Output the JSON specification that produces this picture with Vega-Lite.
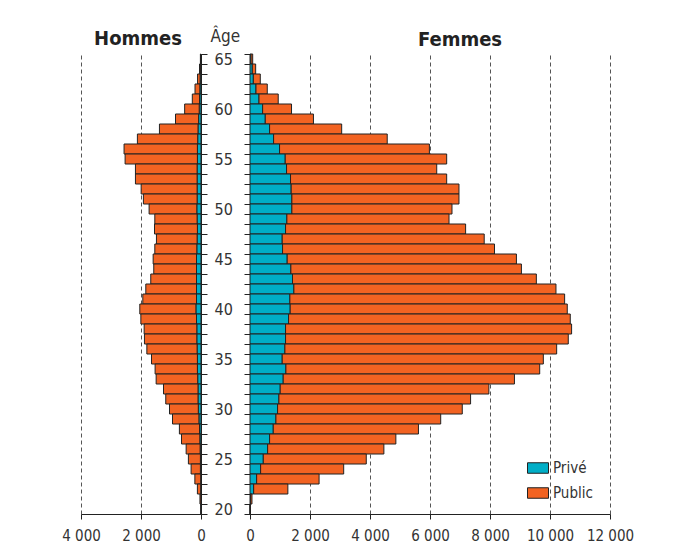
{
  "$schema": "https://vega.github.io/schema/vega-lite/v6.json",
  "background": "white",
  "padding": {"left": 61, "top": 27, "right": 30, "bottom": 30},
  "bounds": "flush",
  "spacing": 49,
  "config": {
    "locale": {"number": {"decimal": ",", "thousands": " ", "grouping": [3], "currency": ["", " €"]}},
    "font": "DejaVu Sans Condensed, sans-serif",
    "view": {"stroke": null},
    "axis": {
      "domainColor": "#222",
      "tickColor": "#222",
      "labelColor": "#333",
      "labelFont": "DejaVu Sans Condensed, sans-serif",
      "titleFont": "DejaVu Sans Condensed, sans-serif",
      "titleColor": "#333",
      "gridColor": "#555",
      "gridDash": [4, 3],
      "gridWidth": 1
    },
    "title": {
      "font": "DejaVu Sans Condensed, sans-serif",
      "fontSize": 20,
      "fontWeight": "bold",
      "color": "#222",
      "anchor": "middle"
    }
  },
  "datasets": {
    "pop": [
      {"sexe": "Hommes", "age": 65, "secteur": "Privé", "effectif": 10},
      {"sexe": "Hommes", "age": 65, "secteur": "Public", "effectif": 10},
      {"sexe": "Hommes", "age": 64, "secteur": "Privé", "effectif": 20},
      {"sexe": "Hommes", "age": 64, "secteur": "Public", "effectif": 30},
      {"sexe": "Hommes", "age": 63, "secteur": "Privé", "effectif": 30},
      {"sexe": "Hommes", "age": 63, "secteur": "Public", "effectif": 85},
      {"sexe": "Hommes", "age": 62, "secteur": "Privé", "effectif": 40},
      {"sexe": "Hommes", "age": 62, "secteur": "Public", "effectif": 160},
      {"sexe": "Hommes", "age": 61, "secteur": "Privé", "effectif": 50},
      {"sexe": "Hommes", "age": 61, "secteur": "Public", "effectif": 240},
      {"sexe": "Hommes", "age": 60, "secteur": "Privé", "effectif": 60},
      {"sexe": "Hommes", "age": 60, "secteur": "Public", "effectif": 485},
      {"sexe": "Hommes", "age": 59, "secteur": "Privé", "effectif": 80},
      {"sexe": "Hommes", "age": 59, "secteur": "Public", "effectif": 770},
      {"sexe": "Hommes", "age": 58, "secteur": "Privé", "effectif": 100},
      {"sexe": "Hommes", "age": 58, "secteur": "Public", "effectif": 1285},
      {"sexe": "Hommes", "age": 57, "secteur": "Privé", "effectif": 110},
      {"sexe": "Hommes", "age": 57, "secteur": "Public", "effectif": 2010},
      {"sexe": "Hommes", "age": 56, "secteur": "Privé", "effectif": 120},
      {"sexe": "Hommes", "age": 56, "secteur": "Public", "effectif": 2445},
      {"sexe": "Hommes", "age": 55, "secteur": "Privé", "effectif": 120},
      {"sexe": "Hommes", "age": 55, "secteur": "Public", "effectif": 2410},
      {"sexe": "Hommes", "age": 54, "secteur": "Privé", "effectif": 130},
      {"sexe": "Hommes", "age": 54, "secteur": "Public", "effectif": 2055},
      {"sexe": "Hommes", "age": 53, "secteur": "Privé", "effectif": 130},
      {"sexe": "Hommes", "age": 53, "secteur": "Public", "effectif": 2055},
      {"sexe": "Hommes", "age": 52, "secteur": "Privé", "effectif": 130},
      {"sexe": "Hommes", "age": 52, "secteur": "Public", "effectif": 1865},
      {"sexe": "Hommes", "age": 51, "secteur": "Privé", "effectif": 130},
      {"sexe": "Hommes", "age": 51, "secteur": "Public", "effectif": 1790},
      {"sexe": "Hommes", "age": 50, "secteur": "Privé", "effectif": 140},
      {"sexe": "Hommes", "age": 50, "secteur": "Public", "effectif": 1590},
      {"sexe": "Hommes", "age": 49, "secteur": "Privé", "effectif": 130},
      {"sexe": "Hommes", "age": 49, "secteur": "Public", "effectif": 1410},
      {"sexe": "Hommes", "age": 48, "secteur": "Privé", "effectif": 120},
      {"sexe": "Hommes", "age": 48, "secteur": "Public", "effectif": 1430},
      {"sexe": "Hommes", "age": 47, "secteur": "Privé", "effectif": 130},
      {"sexe": "Hommes", "age": 47, "secteur": "Public", "effectif": 1355},
      {"sexe": "Hommes", "age": 46, "secteur": "Privé", "effectif": 140},
      {"sexe": "Hommes", "age": 46, "secteur": "Public", "effectif": 1400},
      {"sexe": "Hommes", "age": 45, "secteur": "Privé", "effectif": 150},
      {"sexe": "Hommes", "age": 45, "secteur": "Public", "effectif": 1445},
      {"sexe": "Hommes", "age": 44, "secteur": "Privé", "effectif": 150},
      {"sexe": "Hommes", "age": 44, "secteur": "Public", "effectif": 1425},
      {"sexe": "Hommes", "age": 43, "secteur": "Privé", "effectif": 150},
      {"sexe": "Hommes", "age": 43, "secteur": "Public", "effectif": 1525},
      {"sexe": "Hommes", "age": 42, "secteur": "Privé", "effectif": 150},
      {"sexe": "Hommes", "age": 42, "secteur": "Public", "effectif": 1690},
      {"sexe": "Hommes", "age": 41, "secteur": "Privé", "effectif": 150},
      {"sexe": "Hommes", "age": 41, "secteur": "Public", "effectif": 1790},
      {"sexe": "Hommes", "age": 40, "secteur": "Privé", "effectif": 170},
      {"sexe": "Hommes", "age": 40, "secteur": "Public", "effectif": 1870},
      {"sexe": "Hommes", "age": 39, "secteur": "Privé", "effectif": 150},
      {"sexe": "Hommes", "age": 39, "secteur": "Public", "effectif": 1855},
      {"sexe": "Hommes", "age": 38, "secteur": "Privé", "effectif": 140},
      {"sexe": "Hommes", "age": 38, "secteur": "Public", "effectif": 1755},
      {"sexe": "Hommes", "age": 37, "secteur": "Privé", "effectif": 140},
      {"sexe": "Hommes", "age": 37, "secteur": "Public", "effectif": 1745},
      {"sexe": "Hommes", "age": 36, "secteur": "Privé", "effectif": 130},
      {"sexe": "Hommes", "age": 36, "secteur": "Public", "effectif": 1675},
      {"sexe": "Hommes", "age": 35, "secteur": "Privé", "effectif": 120},
      {"sexe": "Hommes", "age": 35, "secteur": "Public", "effectif": 1530},
      {"sexe": "Hommes", "age": 34, "secteur": "Privé", "effectif": 120},
      {"sexe": "Hommes", "age": 34, "secteur": "Public", "effectif": 1410},
      {"sexe": "Hommes", "age": 33, "secteur": "Privé", "effectif": 110},
      {"sexe": "Hommes", "age": 33, "secteur": "Public", "effectif": 1385},
      {"sexe": "Hommes", "age": 32, "secteur": "Privé", "effectif": 100},
      {"sexe": "Hommes", "age": 32, "secteur": "Public", "effectif": 1150},
      {"sexe": "Hommes", "age": 31, "secteur": "Privé", "effectif": 100},
      {"sexe": "Hommes", "age": 31, "secteur": "Public", "effectif": 1075},
      {"sexe": "Hommes", "age": 30, "secteur": "Privé", "effectif": 90},
      {"sexe": "Hommes", "age": 30, "secteur": "Public", "effectif": 960},
      {"sexe": "Hommes", "age": 29, "secteur": "Privé", "effectif": 70},
      {"sexe": "Hommes", "age": 29, "secteur": "Public", "effectif": 880},
      {"sexe": "Hommes", "age": 28, "secteur": "Privé", "effectif": 50},
      {"sexe": "Hommes", "age": 28, "secteur": "Public", "effectif": 670},
      {"sexe": "Hommes", "age": 27, "secteur": "Privé", "effectif": 40},
      {"sexe": "Hommes", "age": 27, "secteur": "Public", "effectif": 610},
      {"sexe": "Hommes", "age": 26, "secteur": "Privé", "effectif": 30},
      {"sexe": "Hommes", "age": 26, "secteur": "Public", "effectif": 465},
      {"sexe": "Hommes", "age": 25, "secteur": "Privé", "effectif": 20},
      {"sexe": "Hommes", "age": 25, "secteur": "Public", "effectif": 400},
      {"sexe": "Hommes", "age": 24, "secteur": "Privé", "effectif": 20},
      {"sexe": "Hommes", "age": 24, "secteur": "Public", "effectif": 310},
      {"sexe": "Hommes", "age": 23, "secteur": "Privé", "effectif": 10},
      {"sexe": "Hommes", "age": 23, "secteur": "Public", "effectif": 195},
      {"sexe": "Hommes", "age": 22, "secteur": "Privé", "effectif": 10},
      {"sexe": "Hommes", "age": 22, "secteur": "Public", "effectif": 110},
      {"sexe": "Hommes", "age": 21, "secteur": "Privé", "effectif": 5},
      {"sexe": "Hommes", "age": 21, "secteur": "Public", "effectif": 30},
      {"sexe": "Hommes", "age": 20, "secteur": "Privé", "effectif": 0},
      {"sexe": "Hommes", "age": 20, "secteur": "Public", "effectif": 0},
      {"sexe": "Femmes", "age": 65, "secteur": "Privé", "effectif": 33},
      {"sexe": "Femmes", "age": 65, "secteur": "Public", "effectif": 57},
      {"sexe": "Femmes", "age": 64, "secteur": "Privé", "effectif": 77},
      {"sexe": "Femmes", "age": 64, "secteur": "Public", "effectif": 112},
      {"sexe": "Femmes", "age": 63, "secteur": "Privé", "effectif": 111},
      {"sexe": "Femmes", "age": 63, "secteur": "Public", "effectif": 232},
      {"sexe": "Femmes", "age": 62, "secteur": "Privé", "effectif": 199},
      {"sexe": "Femmes", "age": 62, "secteur": "Public", "effectif": 377},
      {"sexe": "Femmes", "age": 61, "secteur": "Privé", "effectif": 299},
      {"sexe": "Femmes", "age": 61, "secteur": "Public", "effectif": 642},
      {"sexe": "Femmes", "age": 60, "secteur": "Privé", "effectif": 421},
      {"sexe": "Femmes", "age": 60, "secteur": "Public", "effectif": 963},
      {"sexe": "Femmes", "age": 59, "secteur": "Privé", "effectif": 509},
      {"sexe": "Femmes", "age": 59, "secteur": "Public", "effectif": 1606},
      {"sexe": "Femmes", "age": 58, "secteur": "Privé", "effectif": 653},
      {"sexe": "Femmes", "age": 58, "secteur": "Public", "effectif": 2403},
      {"sexe": "Femmes", "age": 57, "secteur": "Privé", "effectif": 786},
      {"sexe": "Femmes", "age": 57, "secteur": "Public", "effectif": 3788},
      {"sexe": "Femmes", "age": 56, "secteur": "Privé", "effectif": 985},
      {"sexe": "Femmes", "age": 56, "secteur": "Public", "effectif": 4995},
      {"sexe": "Femmes", "age": 55, "secteur": "Privé", "effectif": 1174},
      {"sexe": "Femmes", "age": 55, "secteur": "Public", "effectif": 5382},
      {"sexe": "Femmes", "age": 54, "secteur": "Privé", "effectif": 1218},
      {"sexe": "Femmes", "age": 54, "secteur": "Public", "effectif": 5006},
      {"sexe": "Femmes", "age": 53, "secteur": "Privé", "effectif": 1351},
      {"sexe": "Femmes", "age": 53, "secteur": "Public", "effectif": 5205},
      {"sexe": "Femmes", "age": 52, "secteur": "Privé", "effectif": 1373},
      {"sexe": "Femmes", "age": 52, "secteur": "Public", "effectif": 5593},
      {"sexe": "Femmes", "age": 51, "secteur": "Privé", "effectif": 1395},
      {"sexe": "Femmes", "age": 51, "secteur": "Public", "effectif": 5571},
      {"sexe": "Femmes", "age": 50, "secteur": "Privé", "effectif": 1395},
      {"sexe": "Femmes", "age": 50, "secteur": "Public", "effectif": 5338},
      {"sexe": "Femmes", "age": 49, "secteur": "Privé", "effectif": 1229},
      {"sexe": "Femmes", "age": 49, "secteur": "Public", "effectif": 5405},
      {"sexe": "Femmes", "age": 48, "secteur": "Privé", "effectif": 1185},
      {"sexe": "Femmes", "age": 48, "secteur": "Public", "effectif": 6002},
      {"sexe": "Femmes", "age": 47, "secteur": "Privé", "effectif": 1074},
      {"sexe": "Femmes", "age": 47, "secteur": "Public", "effectif": 6733},
      {"sexe": "Femmes", "age": 46, "secteur": "Privé", "effectif": 1085},
      {"sexe": "Femmes", "age": 46, "secteur": "Public", "effectif": 7065},
      {"sexe": "Femmes", "age": 45, "secteur": "Privé", "effectif": 1240},
      {"sexe": "Femmes", "age": 45, "secteur": "Public", "effectif": 7641},
      {"sexe": "Femmes", "age": 44, "secteur": "Privé", "effectif": 1362},
      {"sexe": "Femmes", "age": 44, "secteur": "Public", "effectif": 7685},
      {"sexe": "Femmes", "age": 43, "secteur": "Privé", "effectif": 1417},
      {"sexe": "Femmes", "age": 43, "secteur": "Public", "effectif": 8128},
      {"sexe": "Femmes", "age": 42, "secteur": "Privé", "effectif": 1462},
      {"sexe": "Femmes", "age": 42, "secteur": "Public", "effectif": 8737},
      {"sexe": "Femmes", "age": 41, "secteur": "Privé", "effectif": 1329},
      {"sexe": "Femmes", "age": 41, "secteur": "Public", "effectif": 9159},
      {"sexe": "Femmes", "age": 40, "secteur": "Privé", "effectif": 1340},
      {"sexe": "Femmes", "age": 40, "secteur": "Public", "effectif": 9236},
      {"sexe": "Femmes", "age": 39, "secteur": "Privé", "effectif": 1285},
      {"sexe": "Femmes", "age": 39, "secteur": "Public", "effectif": 9391},
      {"sexe": "Femmes", "age": 38, "secteur": "Privé", "effectif": 1185},
      {"sexe": "Femmes", "age": 38, "secteur": "Public", "effectif": 9535},
      {"sexe": "Femmes", "age": 37, "secteur": "Privé", "effectif": 1185},
      {"sexe": "Femmes", "age": 37, "secteur": "Public", "effectif": 9424},
      {"sexe": "Femmes", "age": 36, "secteur": "Privé", "effectif": 1163},
      {"sexe": "Femmes", "age": 36, "secteur": "Public", "effectif": 9059},
      {"sexe": "Femmes", "age": 35, "secteur": "Privé", "effectif": 1074},
      {"sexe": "Femmes", "age": 35, "secteur": "Public", "effectif": 8704},
      {"sexe": "Femmes", "age": 34, "secteur": "Privé", "effectif": 1196},
      {"sexe": "Femmes", "age": 34, "secteur": "Public", "effectif": 8461},
      {"sexe": "Femmes", "age": 33, "secteur": "Privé", "effectif": 1107},
      {"sexe": "Femmes", "age": 33, "secteur": "Public", "effectif": 7708},
      {"sexe": "Femmes", "age": 32, "secteur": "Privé", "effectif": 1007},
      {"sexe": "Femmes", "age": 32, "secteur": "Public", "effectif": 6956},
      {"sexe": "Femmes", "age": 31, "secteur": "Privé", "effectif": 963},
      {"sexe": "Femmes", "age": 31, "secteur": "Public", "effectif": 6390},
      {"sexe": "Femmes", "age": 30, "secteur": "Privé", "effectif": 919},
      {"sexe": "Femmes", "age": 30, "secteur": "Public", "effectif": 6157},
      {"sexe": "Femmes", "age": 29, "secteur": "Privé", "effectif": 864},
      {"sexe": "Femmes", "age": 29, "secteur": "Public", "effectif": 5493},
      {"sexe": "Femmes", "age": 28, "secteur": "Privé", "effectif": 775},
      {"sexe": "Femmes", "age": 28, "secteur": "Public", "effectif": 4840},
      {"sexe": "Femmes", "age": 27, "secteur": "Privé", "effectif": 653},
      {"sexe": "Femmes", "age": 27, "secteur": "Public", "effectif": 4209},
      {"sexe": "Femmes", "age": 26, "secteur": "Privé", "effectif": 587},
      {"sexe": "Femmes", "age": 26, "secteur": "Public", "effectif": 3876},
      {"sexe": "Femmes", "age": 25, "secteur": "Privé", "effectif": 443},
      {"sexe": "Femmes", "age": 25, "secteur": "Public", "effectif": 3433},
      {"sexe": "Femmes", "age": 24, "secteur": "Privé", "effectif": 354},
      {"sexe": "Femmes", "age": 24, "secteur": "Public", "effectif": 2769},
      {"sexe": "Femmes", "age": 23, "secteur": "Privé", "effectif": 221},
      {"sexe": "Femmes", "age": 23, "secteur": "Public", "effectif": 2082},
      {"sexe": "Femmes", "age": 22, "secteur": "Privé", "effectif": 122},
      {"sexe": "Femmes", "age": 22, "secteur": "Public", "effectif": 1140},
      {"sexe": "Femmes", "age": 21, "secteur": "Privé", "effectif": 20},
      {"sexe": "Femmes", "age": 21, "secteur": "Public", "effectif": 46},
      {"sexe": "Femmes", "age": 20, "secteur": "Privé", "effectif": 3},
      {"sexe": "Femmes", "age": 20, "secteur": "Public", "effectif": 7}
    ]
  },
  "data": {"name": "pop"},
  "hconcat": [
    {
      "width": 120,
      "height": 460,
      "title": {"text": "Hommes", "dx": -3, "offset": -22},
      "transform": [{"filter": "datum.sexe === 'Hommes'"}],
      "mark": {"type": "bar", "stroke": "#222", "strokeWidth": 1},
      "encoding": {
        "y": {
          "field": "age", "type": "ordinal", "sort": "descending",
          "scale": {"paddingInner": 0, "paddingOuter": 0},
          "axis": {
            "orient": "right", "title": "Âge", "titleAngle": 0, "titleX": 9, "titleY": -13,
            "titleAlign": "left", "titleBaseline": "alphabetic", "titleFontSize": 17, "titleFontWeight": "normal",
            "labelExpr": "datum.value % 5 === 0 ? datum.label : ''",
            "tickBand": "extent", "labelOverlap": false, "labelPadding": 7, "tickSize": 6,
            "labelFontSize": 16, "labelAlign": "left", "labelBaseline": "middle", "grid": false
          }
        },
        "x": {
          "field": "effectif", "type": "quantitative", "stack": "zero",
          "scale": {"domain": [0, 4000], "reverse": true, "nice": false},
          "axis": {"title": null, "values": [0, 2000, 4000], "format": ",d", "labelFontSize": 15, "tickSize": 5, "labelPadding": 9, "grid": true, "labelFlush": false, "labelOverlap": false}
        },
        "color": {
          "field": "secteur", "type": "nominal",
          "scale": {"domain": ["Privé", "Public"], "range": ["#00AEC7", "#F26322"]},
          "legend": {
            "orient": "none", "legendX": 446, "legendY": 403, "title": null,
            "symbolType": "M-1,-0.5H1V0.5H-1Z", "symbolSize": 441,
            "symbolStrokeColor": "#222", "symbolStrokeWidth": 1, "symbolOpacity": 1,
            "labelFontSize": 15, "labelColor": "#333", "rowPadding": 6, "labelOffset": 4, "padding": 0,
            "labelFont": "DejaVu Sans Condensed, sans-serif"
          }
        }
      }
    },
    {
      "width": 360,
      "height": 460,
      "title": {"text": "Femmes", "dx": 30},
      "transform": [{"filter": "datum.sexe === 'Femmes'"}],
      "mark": {"type": "bar", "stroke": "#222", "strokeWidth": 1},
      "encoding": {
        "y": {
          "field": "age", "type": "ordinal", "sort": "descending",
          "scale": {"paddingInner": 0, "paddingOuter": 0},
          "axis": {"orient": "left", "title": null, "labels": false, "tickBand": "extent", "tickSize": 6, "grid": false}
        },
        "x": {
          "field": "effectif", "type": "quantitative", "stack": "zero",
          "scale": {"domain": [0, 12000], "nice": false},
          "axis": {"title": null, "values": [0, 2000, 4000, 6000, 8000, 10000, 12000], "format": ",d", "labelFontSize": 15, "tickSize": 5, "labelPadding": 9, "grid": true, "labelFlush": false, "labelOverlap": false}
        },
        "color": {"field": "secteur", "type": "nominal"}
      }
    }
  ]
}
